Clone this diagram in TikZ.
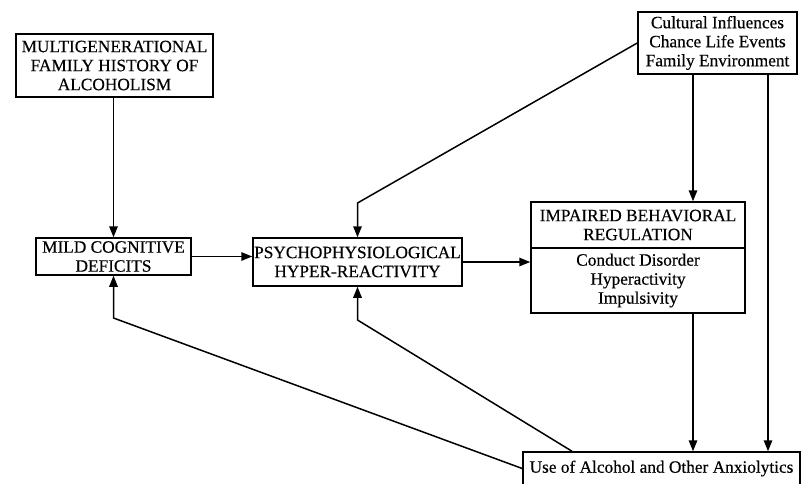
\documentclass[tikz,border=0pt]{standalone}
\usepackage{fontspec}
\setmainfont{Liberation Serif}[FakeBold=0.4]
\usetikzlibrary{arrows.meta,calc}
\begin{document}
\begin{tikzpicture}[x=1pt,y=-1pt,
  box/.style={draw,line width=1.5pt,inner sep=0pt,align=center,font=\fontsize{17.3}{19}\selectfont},
  arr/.style={line width=1.5pt,-{Triangle[length=11pt,width=8.5pt]}},
  ln/.style={line width=1.5pt}]
\useasboundingbox (0,0) rectangle (802,483);
\node[box,minimum width=197pt,minimum height=63pt] (fam) at (114.5,65.5) {MULTIGENERATIONAL\\FAMILY HISTORY OF\\ALCOHOLISM};
\node[box,minimum width=155pt,minimum height=37pt] (mild) at (113.5,256.5) {MILD COGNITIVE\\DEFICITS};
\node[box,minimum width=209pt,minimum height=48pt] (psy) at (357.5,262) {PSYCHOPHYSIOLOGICAL\\HYPER-REACTIVITY};
\node[box,minimum width=214pt,minimum height=46pt] (imp) at (638,225) {IMPAIRED BEHAVIORAL\\REGULATION};
\node[box,minimum width=214pt,minimum height=65pt] (impb) at (638,280.5) {Conduct Disorder\\Hyperactivity\\Impulsivity};
\node[box,minimum width=159pt,minimum height=62pt] (cult) at (717.5,43) {Cultural Influences\\Chance Life Events\\Family Environment};
\node[box,minimum width=277pt,minimum height=33pt] (use) at (661.5,468.5) {Use of Alcohol and Other Anxiolytics};
\coordinate (b1) at (357.5,203);
\coordinate (b2) at (357.5,320);
\coordinate (b3) at (113.5,318);
\coordinate (c1) at (693,0);
\coordinate (c2) at (768,0);
\coordinate (c3) at (572,0);
\draw[arr] (mild.north |- fam.south) -- (mild.north);
\draw[arr] (mild.east) -- (mild.east -| psy.west);
\draw[arr] (psy.east) -- (psy.east -| impb.west);
\draw[arr] (cult.west) -- (b1) -- (psy.north);
\draw[arr] (c1 |- cult.south) -- (c1 |- imp.north);
\draw[arr] (c2 |- cult.south) -- (c2 |- use.north);
\draw[arr] (c1 |- impb.south) -- (c1 |- use.north);
\draw[arr] (c3 |- use.north) -- (b2) -- (psy.south);
\draw[arr] (use.west) -- (b3) -- (mild.south);
\end{tikzpicture}
\end{document}
